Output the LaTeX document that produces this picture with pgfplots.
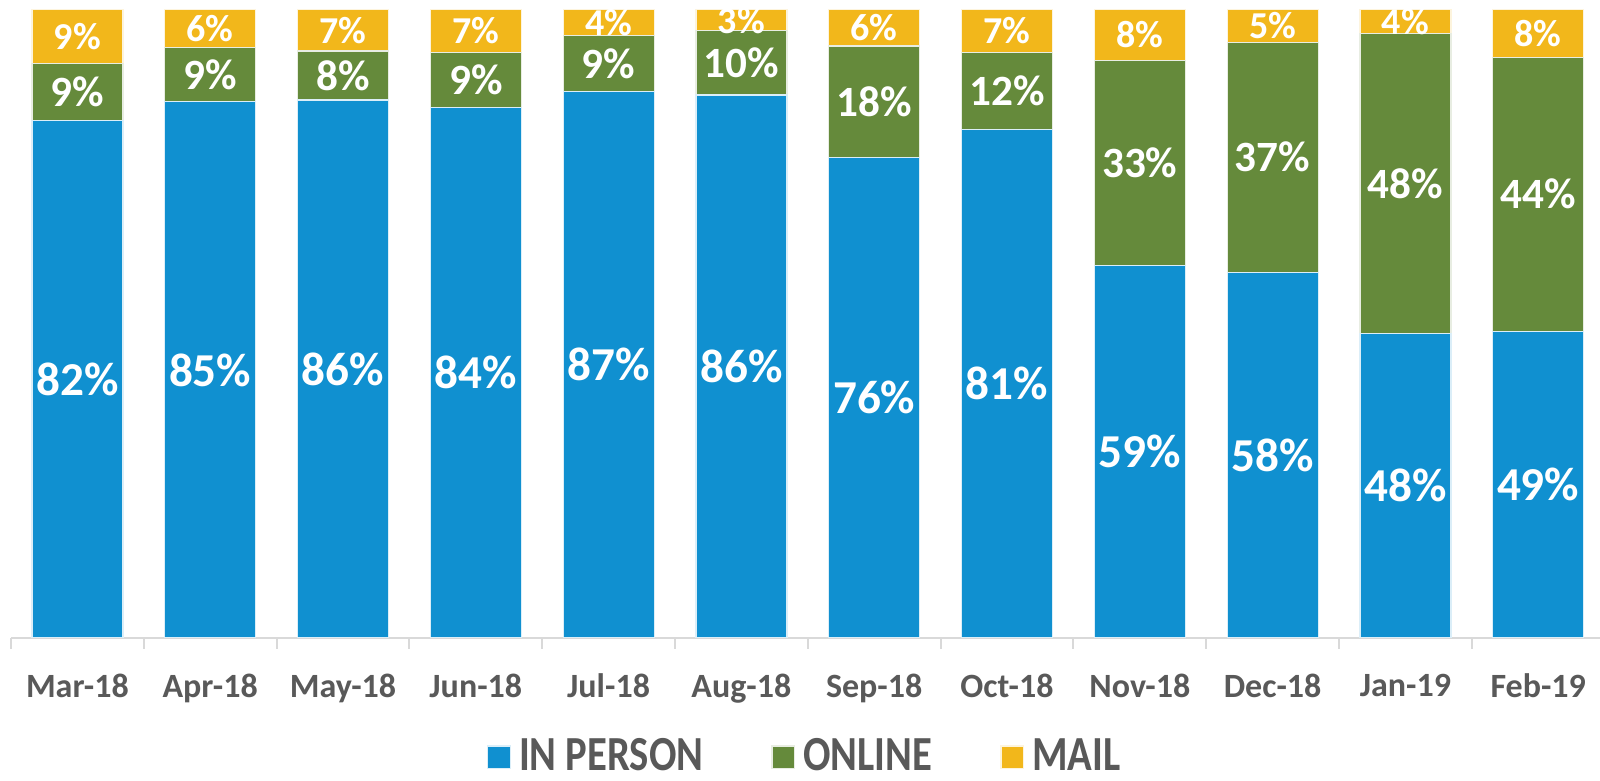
\documentclass[border=0pt]{standalone}
\usepackage{pgfplots}
\usepackage{pgfplotstable}
\pgfplotsset{compat=1.18}
\usepackage{fontspec}
\setmainfont{Carlito}
\newfontfamily\legfont[FakeStretch=0.83]{Carlito}

\definecolor{cblue}{RGB}{16,144,208}
\definecolor{cgreen}{RGB}{101,138,59}
\definecolor{cyellow}{RGB}{242,183,27}
\definecolor{ctext}{RGB}{89,89,89}
\definecolor{caxis}{RGB}{217,217,217}

% heights (labels are the rounded values)
\pgfplotstableread{
x inperson online mail
0  82.3 9.1  8.6
1  85.3 8.7  6.0
2  85.6 7.8  6.6
3  84.4 8.8  6.8
4  86.9 8.9  4.2
5  86.4 10.2 3.4
6  76.4 17.8 5.8
7  80.9 12.3 6.8
8  59.3 32.6 8.1
9  58.2 36.6 5.2
10 48.4 47.8 3.8
11 48.8 43.6 7.6
}\shares

\pgfplotsset{
    frame/.style={
        at={(2.75pt,35.75pt)}, anchor=south west,
        scale only axis,
        width=398.4pt, height=157.125pt,
        xmin=-0.5, xmax=11.5,
        ymin=0, ymax=100,
    },
    lbl/.style={draw=none, no marks,
        point meta=explicit symbolic,
        nodes near coords={\pgfmathprintnumber[fixed,precision=0,assume math mode=true]{\pgfplotspointmeta}\%},
        every node near coord/.append style={anchor=center, text=white, inner sep=0pt, font=#1}},
}

\begin{document}
\begin{tikzpicture}
\useasboundingbox (0,0) rectangle (400pt,195.25pt);
\begin{axis}[
    frame,
    ybar stacked,
    bar width=22.75pt,
    axis y line=none,
    axis x line=bottom,
    x axis line style={-, draw=caxis, line width=0.5pt},
    xtick={0,...,11},
    xticklabels={Mar-18,Apr-18,May-18,Jun-18,Jul-18,Aug-18,Sep-18,Oct-18,Nov-18,Dec-18,Jan-19,Feb-19},
    major tick length=0pt,
    minor xtick={-0.5,0.5,...,11.5},
    minor tick length=2.75pt,
    tick align=outside,
    minor tick style={draw=caxis, line width=0.5pt},
    xticklabel style={font=\fontsize{8.5}{10}\selectfont\bfseries, text=ctext, yshift=-5.4pt},
    legend columns=3,
    legend style={draw=none, at={(0.5,-0.19)}, anchor=center, inner sep=1pt,
        font=\legfont\fontsize{12.25}{14}\selectfont\bfseries, text=ctext,
        /tikz/every even column/.append style={column sep=15pt}},
    legend image code/.code={\fill[#1] (0pt,-2.85pt) rectangle (5.7pt,2.85pt);},
]
\addplot[fill=cblue, draw=white!85!cblue, line width=0.3pt]
    table[x=x, y=inperson] {\shares};
\addlegendentry{IN PERSON}
\addplot[fill=cgreen, draw=white!85!cgreen, line width=0.3pt]
    table[x=x, y=online] {\shares};
\addlegendentry{ONLINE}
\addplot[fill=cyellow, draw=white!85!cyellow, line width=0.3pt]
    table[x=x, y=mail] {\shares};
\addlegendentry{MAIL}
\end{axis}
% data labels, centred in each segment
\begin{axis}[frame, hide axis, clip=false]
\addplot[lbl={\fontsize{11.8}{13}\selectfont\bfseries}]
    table[x=x, y expr=\thisrow{inperson}/2, meta=inperson] {\shares};
\addplot[lbl={\fontsize{10.8}{12}\selectfont\bfseries}]
    table[x=x, y expr=\thisrow{inperson}+\thisrow{online}/2, meta=online] {\shares};
\addplot[lbl={\fontsize{9.5}{11}\selectfont\bfseries}]
    table[x=x, y expr=\thisrow{inperson}+\thisrow{online}+\thisrow{mail}/2, meta=mail] {\shares};
\end{axis}
\end{tikzpicture}
\end{document}
